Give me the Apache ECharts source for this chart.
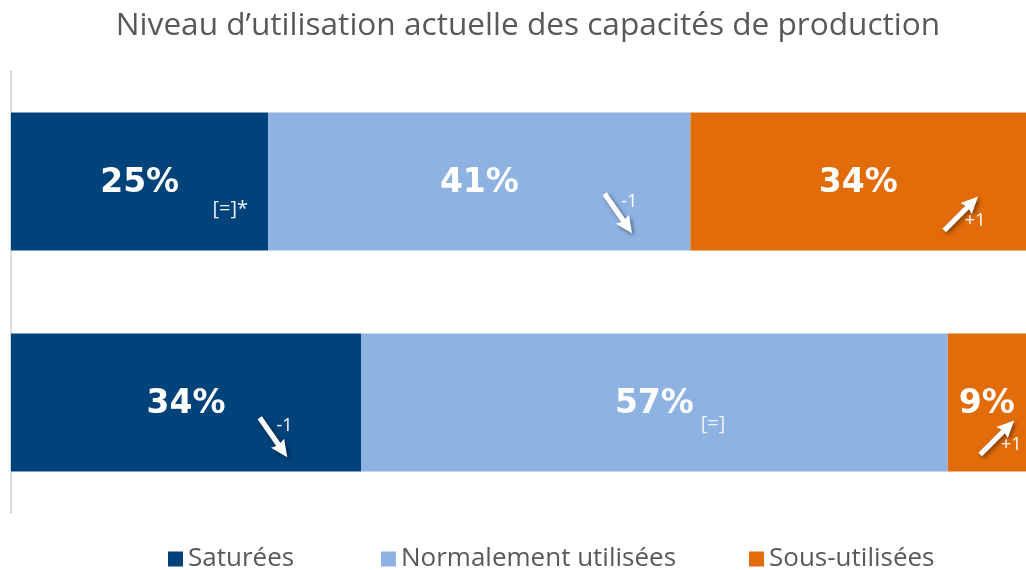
<!DOCTYPE html>
<html>
<head>
<meta charset="utf-8">
<script src="https://cdn.jsdelivr.net/npm/echarts@6/dist/echarts.min.js"></script>
<style>
html,body{margin:0;padding:0;background:#fff;}
#chart{width:1026px;height:570px;}
</style>
</head>
<body>
<div id="chart"></div>
<script>
// ---- data ----
var categories = ['Ligne 1', 'Ligne 2'];
var seriesNames = ['Saturées', 'Normalement utilisées', 'Sous-utilisées'];
var saturees = [25, 34];
var normales = [41, 57];
var sousUtil = [34, 9];
// visible part of the 0-100 scale (the right end of the chart is cropped)
var visibleMax = 98.6;
// annotations: [category index, x value, text, arrow ('up'|'down'|'none')]
var annotations = [
  [0, 21.3, '[=]*', 'none'],
  [0, 59.0, '-1', 'down'],
  [0, 92.3, '+1', 'up'],
  [1, 25.5, '-1', 'down'],
  [1, 68.2, '[=]', 'none'],
  [1, 95.8, '+1', 'up']
];
var title = 'Niveau d\u2019utilisation actuelle des capacités de production';

var colors = ['#00427A', '#8EB3E3', '#E36C0A'];
var values = [saturees, normales, sousUtil];
var legendLeft = [163, 376, 744];

var chart = echarts.init(document.getElementById('chart'), null, {renderer: 'canvas'});

var barSeries = seriesNames.map(function (name, i) {
  return {
    name: name,
    type: 'bar',
    stack: 'total',
    barWidth: '62.4%',
    clip: true,
    data: values[i],
    itemStyle: {color: colors[i]},
    label: {
      show: true,
      position: 'inside',
      offset: [0, 2],
      color: '#fff',
      fontFamily: 'DejaVu Sans',
      fontWeight: 'bold',
      fontSize: 33,
      formatter: function (p) { return p.value + '%'; }
    }
  };
});

var ARROW = 'path://M8,0 L16,17 L10.6,15.5 L10.6,48 L5.4,48 L5.4,15.5 L0,17 Z';

var annoData = annotations.map(function (a) {
  var isArrow = a[3] !== 'none';
  var yOff = a[0] === 0 ? 32 : 35;
  var d = {
    value: [a[1], a[0]],
    symbol: isArrow ? ARROW : 'rect',
    symbolSize: isArrow ? [16, 48] : 1,
    symbolRotate: a[3] === 'up' ? -45 : -145,
    symbolOffset: [0, isArrow ? yOff : (a[0] === 0 ? 28 : 22)],
    label: {
      show: true,
      formatter: a[2],
      color: '#ffffff',
      fontFamily: 'Open Sans',
      fontSize: 18
    }
  };
  if (a[3] === 'down') d.label.offset = [11, -12];
  else if (a[3] === 'up') d.label.offset = [14, 7];
  else {
    d.label.offset = [0, 0];
    d.label.fontSize = 20;
    d.label.color = '#eef3fa';
    d.itemStyle = {color: 'rgba(0,0,0,0)', shadowBlur: 0, shadowColor: 'rgba(0,0,0,0)'};
  }
  return d;
});

var legends = seriesNames.map(function (name, i) {
  return {
    data: [name],
    top: 541,
    left: legendLeft[i],
    itemWidth: 15,
    itemHeight: 15,
    icon: 'rect',
    textStyle: {
      fontFamily: 'Open Sans',
      fontSize: 26,
      color: '#595959'
    }
  };
});

chart.setOption({
  animation: false,
  title: {
    text: title,
    left: 523,
    top: 5,
    textAlign: 'center',
    textStyle: {
      fontFamily: 'Open Sans',
      fontWeight: 'normal',
      fontSize: 31.6,
      color: '#595959'
    }
  },
  legend: legends,
  grid: {
    left: 11,
    top: 71,
    bottom: 57,
    right: 0,
    containLabel: false
  },
  xAxis: {
    type: 'value',
    min: 0,
    max: visibleMax,
    show: false
  },
  yAxis: {
    type: 'category',
    data: categories,
    inverse: true,
    axisLine: {show: true, lineStyle: {color: '#d9d9d9', width: 2}},
    axisTick: {show: false},
    axisLabel: {show: false}
  },
  series: barSeries.concat([{
    name: 'annotations',
    type: 'scatter',
    z: 5,
    silent: true,
    data: annoData,
    itemStyle: {
      color: '#ffffff',
      opacity: 1,
      shadowBlur: 4,
      shadowOffsetX: 2,
      shadowOffsetY: 2,
      shadowColor: 'rgba(0,0,0,0.45)'
    },
    label: {position: 'inside'}
  }])
});
</script>
</body>
</html>
